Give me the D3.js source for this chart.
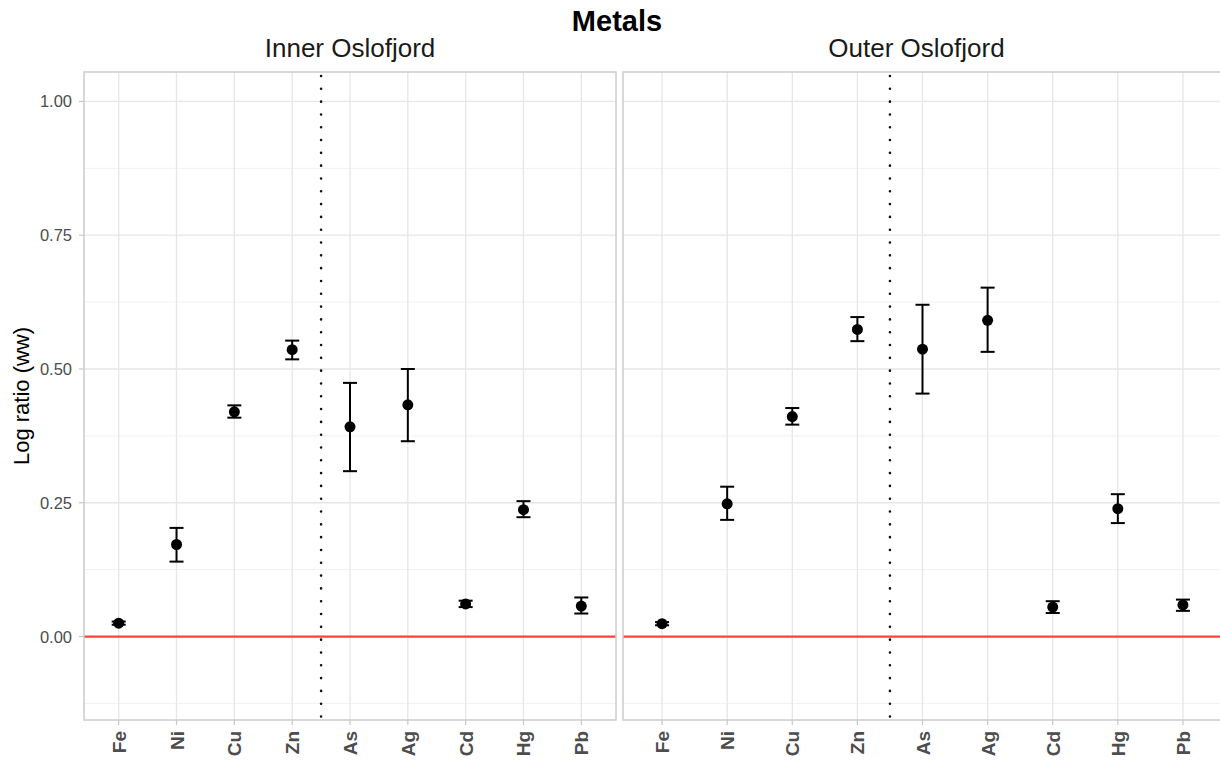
<!DOCTYPE html>
<html>
<head>
<meta charset="utf-8">
<script src="https://cdn.jsdelivr.net/npm/d3@7"></script>
<style>
  body { margin: 0; background: #fff; }
  svg { font-family: "Liberation Sans", Arial, sans-serif; }
</style>
</head>
<body>
<div id="chart"></div>
<script>
// metals chart, two facets (inner / outer fjord)

const metals = ["Fe", "Ni", "Cu", "Zn", "As", "Ag", "Cd", "Hg", "Pb"];
const regions = ["Inner Oslofjord", "Outer Oslofjord"];

const innerMean = [0.025, 0.172, 0.420, 0.536, 0.392, 0.433, 0.061, 0.237, 0.057];
const innerLo   = [0.022, 0.140, 0.409, 0.518, 0.309, 0.365, 0.055, 0.223, 0.043];
const innerHi   = [0.028, 0.203, 0.432, 0.553, 0.474, 0.500, 0.067, 0.253, 0.073];

const outerMean = [0.024, 0.248, 0.411, 0.574, 0.537, 0.591, 0.055, 0.239, 0.059];
const outerLo   = [0.021, 0.218, 0.396, 0.552, 0.454, 0.532, 0.044, 0.212, 0.048];
const outerHi   = [0.027, 0.280, 0.427, 0.597, 0.620, 0.652, 0.066, 0.266, 0.069];

const yTicks = [0, 0.25, 0.5, 0.75, 1.0];
const yMinor = [-0.125, 0.125, 0.375, 0.625, 0.875];

const W = 1220, H = 760;
const svg = d3.select("#chart").append("svg").attr("width", W).attr("height", H);

const plotTop = 72, plotBottom = 720;
const y = d3.scaleLinear().domain([-0.156, 1.055]).range([plotBottom, plotTop]);

const panels = [
  { name: regions[0], x0: 84, x1: 616, mean: innerMean, lo: innerLo, hi: innerHi, yAxis: true },
  { name: regions[1], x0: 623, x1: 1222, mean: outerMean, lo: outerLo, hi: outerHi, yAxis: false }
];

svg.append("text")
  .attr("x", 617).attr("y", 31)
  .attr("text-anchor", "middle")
  .attr("font-size", "29px").attr("font-weight", "bold").attr("fill", "#000")
  .text("Metals");

panels.forEach(p => {
  const x = d3.scalePoint().domain(metals).range([p.x0, p.x1]).padding(0.6);
  const g = svg.append("g");

  // strip title
  g.append("text")
    .attr("x", (p.x0 + Math.min(p.x1, 1216)) / 2 + (p.yAxis ? 0 : -3)).attr("y", 57)
    .attr("text-anchor", "middle")
    .attr("font-size", "26px").attr("fill", "#1a1a1a")
    .text(p.name);

  // grid
  g.selectAll(".minor").data(yMinor).enter().append("line")
    .attr("x1", p.x0).attr("x2", p.x1)
    .attr("y1", d => y(d)).attr("y2", d => y(d))
    .attr("stroke", "#f1f1f1").attr("stroke-width", 1);
  g.selectAll(".major").data(yTicks).enter().append("line")
    .attr("x1", p.x0).attr("x2", p.x1)
    .attr("y1", d => y(d)).attr("y2", d => y(d))
    .attr("stroke", "#e6e6e6").attr("stroke-width", 1.3);
  g.selectAll(".vgrid").data(metals).enter().append("line")
    .attr("x1", d => x(d)).attr("x2", d => x(d))
    .attr("y1", plotTop).attr("y2", plotBottom)
    .attr("stroke", "#e6e6e6").attr("stroke-width", 1.3);

  // zero line
  g.append("line")
    .attr("x1", p.x0).attr("x2", p.x1)
    .attr("y1", y(0)).attr("y2", y(0))
    .attr("stroke", "#f8453b").attr("stroke-width", 2.2);

  // separator between Zn and As
  const sepX = (x("Zn") + x("As")) / 2;
  g.append("line")
    .attr("x1", sepX).attr("x2", sepX)
    .attr("y1", plotTop + 4).attr("y2", plotBottom)
    .attr("stroke", "#111").attr("stroke-width", 2.6)
    .attr("stroke-linecap", "round")
    .attr("stroke-dasharray", "0.01 12.8");

  // error bars + points
  const rows = metals.map((m, i) => ({ m, mean: p.mean[i], lo: p.lo[i], hi: p.hi[i] }));
  const eb = g.selectAll(".eb").data(rows).enter().append("g");
  eb.append("line")
    .attr("x1", d => x(d.m)).attr("x2", d => x(d.m))
    .attr("y1", d => y(d.lo)).attr("y2", d => y(d.hi))
    .attr("stroke", "#000").attr("stroke-width", 2);
  ["lo", "hi"].forEach(k => {
    eb.append("line")
      .attr("x1", d => x(d.m) - 7).attr("x2", d => x(d.m) + 7)
      .attr("y1", d => y(d[k])).attr("y2", d => y(d[k]))
      .attr("stroke", "#000").attr("stroke-width", 2);
  });
  eb.append("circle")
    .attr("cx", d => x(d.m)).attr("cy", d => y(d.mean))
    .attr("r", 5.5).attr("fill", "#000");

  // panel border
  g.append("rect")
    .attr("x", p.x0).attr("y", plotTop)
    .attr("width", p.x1 - p.x0).attr("height", plotBottom - plotTop)
    .attr("fill", "none").attr("stroke", "#cccccc").attr("stroke-width", 1.5);

  // x axis
  g.selectAll(".xtick").data(metals).enter().append("line")
    .attr("x1", d => x(d)).attr("x2", d => x(d))
    .attr("y1", plotBottom).attr("y2", plotBottom + 5)
    .attr("stroke", "#c8c8c8").attr("stroke-width", 1.2);
  g.selectAll(".xlab").data(metals).enter().append("text")
    .attr("transform", d => `translate(${x(d) + 7},${plotBottom + 11}) rotate(-90)`)
    .attr("text-anchor", "end")
    .attr("font-size", "19px").attr("font-weight", "bold").attr("fill", "#4d4d4d")
    .text(d => d);

  if (p.yAxis) {
    g.selectAll(".ytick").data(yTicks).enter().append("line")
      .attr("x1", p.x0 - 5).attr("x2", p.x0)
      .attr("y1", d => y(d)).attr("y2", d => y(d))
      .attr("stroke", "#c8c8c8").attr("stroke-width", 1.2);
    g.selectAll(".ylab").data(yTicks).enter().append("text")
      .attr("x", p.x0 - 12).attr("y", d => y(d) + 6)
      .attr("text-anchor", "end")
      .attr("font-size", "16.5px").attr("fill", "#4d4d4d")
      .text(d => d3.format(".2f")(d));
    svg.append("text")
      .attr("transform", `translate(29,${(plotTop + plotBottom) / 2}) rotate(-90)`)
      .attr("text-anchor", "middle")
      .attr("font-size", "22px").attr("fill", "#000")
      .text("Log ratio (ww)");
  }
});
</script>
</body>
</html>
